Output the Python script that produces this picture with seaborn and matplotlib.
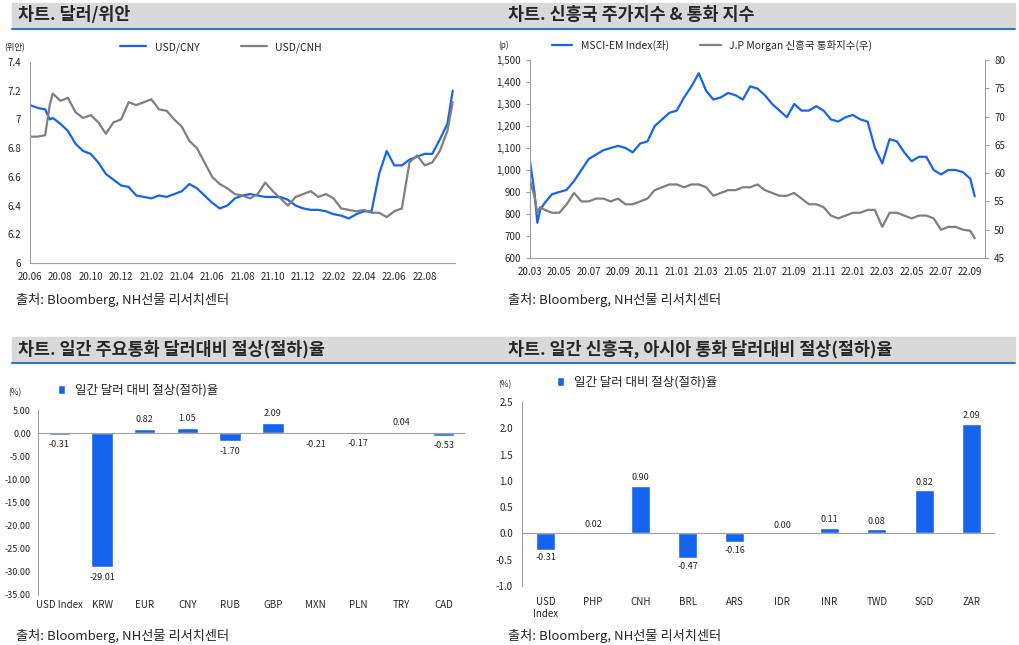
import matplotlib
matplotlib.use("Agg")
import matplotlib.pyplot as plt
import matplotlib.patches as mpatches
import seaborn as sns
import pandas as pd
import numpy as np

sns.set_style("white")
plt.rcParams['font.family'] = ['Noto Sans CJK KR', 'DejaVu Sans']

# ---- data: top-left (months since 2020-06)
fx_t = [0, 0.5, 1.0, 1.3, 1.5, 2, 2.5, 3, 3.5, 4, 4.5, 5, 5.5, 6, 6.5, 7, 7.5, 8, 8.5, 9, 9.5, 10, 10.5, 11, 11.5,
        12, 12.5, 13, 13.5, 14, 14.5, 15, 15.5, 16, 16.5, 17, 17.5, 18, 18.5, 19, 19.5, 20, 20.5, 21, 21.5, 22, 22.5,
        23, 23.5, 24, 24.5, 25, 25.5, 26, 26.5, 27, 27.5, 27.85]
cny = [7.10, 7.08, 7.07, 7.00, 7.01, 6.97, 6.92, 6.83, 6.78, 6.76, 6.70, 6.62, 6.58, 6.54, 6.53, 6.47, 6.46, 6.45, 6.47,
       6.46, 6.48, 6.50, 6.55, 6.52, 6.47, 6.42, 6.38, 6.40, 6.45, 6.47, 6.48, 6.47, 6.46, 6.46, 6.46, 6.44, 6.40,
       6.38, 6.37, 6.37, 6.36, 6.34, 6.33, 6.31, 6.34, 6.36, 6.36, 6.62, 6.78, 6.68, 6.68, 6.72, 6.74, 6.76, 6.76,
       6.86, 6.97, 7.20]
cnh = [6.88, 6.88, 6.89, 7.10, 7.18, 7.13, 7.15, 7.05, 7.01, 7.03, 6.98, 6.90, 6.98, 7.00, 7.12, 7.10, 7.12, 7.14,
       7.07, 7.06, 7.00, 6.95, 6.85, 6.80, 6.70, 6.60, 6.55, 6.52, 6.48, 6.47, 6.45, 6.48, 6.56, 6.50, 6.45, 6.40,
       6.46, 6.48, 6.50, 6.46, 6.48, 6.45, 6.38, 6.37, 6.36, 6.37, 6.35, 6.35, 6.32, 6.36, 6.38, 6.70, 6.75, 6.68,
       6.70, 6.78, 6.92, 7.12]
fx_ticks = ['20.06', '20.08', '20.10', '20.12', '21.02', '21.04', '21.06', '21.08', '21.10', '21.12', '22.02', '22.04', '22.06', '22.08']

# top-right (months since 2020-03)
em_t = [0, 0.3, 0.5, 0.7, 1, 1.5, 2, 2.5, 3, 3.5, 4, 4.5, 5, 5.5, 6, 6.5, 7, 7.5, 8, 8.5, 9, 9.5, 10, 10.5, 11, 11.5,
        12, 12.5, 13, 13.5, 14, 14.5, 15, 15.5, 16, 16.5, 17, 17.5, 18, 18.5, 19, 19.5, 20, 20.5, 21, 21.5, 22, 22.5,
        23, 23.5, 24, 24.5, 25, 25.5, 26, 26.5, 27, 27.5, 28, 28.5, 29, 29.5, 30, 30.3]
msci = [1040, 900, 760, 820, 850, 890, 900, 910, 950, 1000, 1050, 1070, 1090, 1100, 1110, 1100, 1080, 1120, 1130, 1200,
        1230, 1260, 1270, 1330, 1380, 1440, 1360, 1320, 1330, 1350, 1340, 1320, 1380, 1370, 1340, 1300, 1270, 1240,
        1300, 1270, 1270, 1290, 1270, 1230, 1220, 1240, 1250, 1230, 1220, 1100, 1030, 1140, 1130, 1080, 1040, 1060,
        1060, 1000, 980, 1000, 1000, 990, 960, 880]
jpm = [58.5, 56, 53, 54, 53.5, 53, 53, 54.5, 56.5, 55, 55, 55.5, 55.5, 55, 55.5, 54.5, 54.5, 55, 55.5, 57, 57.5, 58,
       58, 57.5, 58, 58, 57.5, 56, 56.5, 57, 57, 57.5, 57.5, 58, 57, 56.5, 56, 56, 56.5, 55.5, 54.5, 54.5, 54,
       52.5, 52, 52.5, 53, 53, 53.5, 53.5, 50.5, 53, 53, 52.5, 52, 52.5, 52.5, 52, 50, 50.5, 50.5, 50, 49.8, 48.5]
em_ticks = ['20.03', '20.05', '20.07', '20.09', '20.11', '21.01', '21.03', '21.05', '21.07', '21.09', '21.11', '22.01', '22.03', '22.05', '22.07', '22.09']

# bottom
major_cur = ['USD Index', 'KRW', 'EUR', 'CNY', 'RUB', 'GBP', 'MXN', 'PLN', 'TRY', 'CAD']
major_val = [-0.31, -29.01, 0.82, 1.05, -1.70, 2.09, -0.21, -0.17, 0.04, -0.53]
em_cur = ['USD\nIndex', 'PHP', 'CNH', 'BRL', 'ARS', 'IDR', 'INR', 'TWD', 'SGD', 'ZAR']
em_val = [-0.31, 0.02, 0.90, -0.47, -0.16, 0.00, 0.11, 0.08, 0.82, 2.09]

BLUE = '#1464f0'
GREY = '#7f7f7f'
fig = plt.figure(figsize=(10.2, 6.45), dpi=100)

def px(x0, y0, x1, y1):
    return [x0/1020, 1-y1/645, (x1-x0)/1020, (y1-y0)/645]

def title_bar(x0, x1, ytop, text):
    fig.patches.append(mpatches.Rectangle((x0/1020, 1-(ytop+24)/645), (x1-x0)/1020, 24/645,
                                          transform=fig.transFigure, color='#d9d9d9', zorder=0))
    fig.lines.append(plt.Line2D([x0/1020, x1/1020], [1-(ytop+26)/645]*2, transform=fig.transFigure, color='#2e75d6', lw=1.5))
    fig.text((x0+6)/1020, 1-(ytop+12)/645, text, fontsize=12.5, fontweight='bold', va='center')

title_bar(12, 502, 3, '차트. 달러/위안')
title_bar(502, 1015, 3, '차트. 신흥국 주가지수 & 통화 지수')
title_bar(12, 502, 337, '차트. 일간 주요통화 달러대비 절상(절하)율')
title_bar(502, 1015, 337, '차트. 일간 신흥국, 아시아 통화 달러대비 절상(절하)율')
for x, y in [(16, 300), (508, 300), (16, 636), (508, 636)]:
    fig.text(x/1020, 1-y/645, '출처: Bloomberg, NH선물 리서치센터', fontsize=9.5, va='center')

def style(ax):
    for s in ['top', 'right']:
        ax.spines[s].set_visible(False)
    for s in ['left', 'bottom']:
        ax.spines[s].set_color('#a0a0a0')
    ax.tick_params(labelsize=7, length=3, color='#a0a0a0')

# top-left
ax1 = fig.add_axes(px(30, 62, 455, 263))
sns.lineplot(x=fx_t, y=cny, ax=ax1, color=BLUE, lw=1.6, label='USD/CNY')
sns.lineplot(x=fx_t, y=cnh, ax=ax1, color=GREY, lw=1.6, label='USD/CNH')
ax1.set_ylim(6, 7.4); ax1.set_xlim(0, 28)
ax1.set_yticks(np.arange(6, 7.41, 0.2)); ax1.set_yticklabels(['6', '6.2', '6.4', '6.6', '6.8', '7', '7.2', '7.4'])
ax1.set_xticks(np.arange(0, 27, 2)); ax1.set_xticklabels(fx_ticks)
style(ax1)
ax1.legend(loc='lower center', bbox_to_anchor=(0.45, 1.0), ncol=2, frameon=False, fontsize=7.5, handlelength=2.5, columnspacing=4)
ax1.text(-0.06, 1.06, '(위안)', transform=ax1.transAxes, fontsize=6)

# top-right
ax2 = fig.add_axes(px(530, 60, 985, 258))
ax2r = ax2.twinx()
sns.lineplot(x=em_t, y=msci, ax=ax2, color=BLUE, lw=1.6, legend=False)
sns.lineplot(x=em_t, y=jpm, ax=ax2r, color=GREY, lw=1.6, legend=False)
ax2.set_ylim(600, 1500); ax2r.set_ylim(45, 80); ax2.set_xlim(0, 31)
ax2.set_yticks(range(600, 1501, 100)); ax2.set_yticklabels([f'{v:,}' for v in range(600, 1501, 100)])
ax2.set_xticks(np.arange(0, 31, 2)); ax2.set_xticklabels(em_ticks)
style(ax2)
ax2r.spines['top'].set_visible(False); ax2r.spines['left'].set_visible(False)
ax2r.spines['bottom'].set_visible(False); ax2r.spines['right'].set_color('#a0a0a0')
ax2r.tick_params(labelsize=7, length=3, color='#a0a0a0')
ax2r.set_yticks(range(45, 81, 5))
ax2.legend(handles=[plt.Line2D([], [], color=BLUE, lw=1.6), plt.Line2D([], [], color=GREY, lw=1.6)],
           labels=['MSCI-EM Index(좌)', 'J.P Morgan 신흥국 통화지수(우)'], loc='lower center',
           bbox_to_anchor=(0.4, 1.0), ncol=2, frameon=False, fontsize=7.5, columnspacing=3)
ax2.text(-0.07, 1.06, '(p)', transform=ax2.transAxes, fontsize=6)

# bottom-left
ax3 = fig.add_axes(px(38, 410, 465, 595))
sns.barplot(x=major_cur, y=major_val, ax=ax3, color=BLUE, width=0.5, saturation=1, label='일간 달러 대비 절상(절하)율')
ax3.set_ylim(-35, 5); ax3.set_yticks(range(-35, 6, 5)); ax3.set_yticklabels([f'{v:.2f}' for v in range(-35, 6, 5)])
style(ax3); ax3.spines['bottom'].set_visible(False)
ax3.tick_params(axis='y', labelsize=6.5, pad=2)
ax3.axhline(0, color='#a0a0a0', lw=0.8)
for i, v in enumerate(major_val):
    ax3.text(i, v + (1.2 if v >= 0 else -1.2), f'{v:.2f}', ha='center', va='bottom' if v >= 0 else 'top', fontsize=6.5)
ax3.tick_params(axis='x', length=0)
ax3.legend(loc='lower left', bbox_to_anchor=(0.02, 1.01), frameon=False, fontsize=9, handlelength=0.6, handleheight=0.8)
ax3.text(-0.07, 1.08, '(%)', transform=ax3.transAxes, fontsize=6)

# bottom-right
ax4 = fig.add_axes(px(522, 402, 995, 586))
sns.barplot(x=em_cur, y=em_val, ax=ax4, color=BLUE, width=0.4, saturation=1, label='일간 달러 대비 절상(절하)율')
ax4.set_ylim(-1.0, 2.5); ax4.set_yticks(np.arange(-1.0, 2.51, 0.5)); ax4.set_yticklabels([f'{v:.1f}' for v in np.arange(-1.0, 2.51, 0.5)])
style(ax4); ax4.spines['bottom'].set_visible(False)
ax4.axhline(0, color='#a0a0a0', lw=0.8)
for i, v in enumerate(em_val):
    ax4.text(i, v + (0.07 if v >= 0 else -0.07), f'{v:.2f}', ha='center', va='bottom' if v >= 0 else 'top', fontsize=6.5)
ax4.tick_params(axis='x', length=0, pad=8)
ax4.legend(loc='lower left', bbox_to_anchor=(0.05, 1.01), frameon=False, fontsize=9, handlelength=0.6, handleheight=0.8)
ax4.text(-0.05, 1.08, '(%)', transform=ax4.transAxes, fontsize=6)

fig.savefig('out.png', dpi=100)
